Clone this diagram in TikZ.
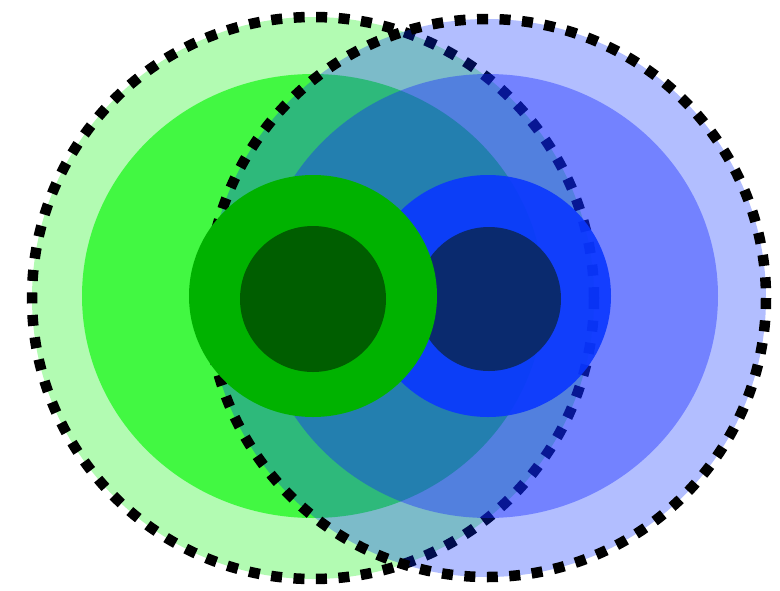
\documentclass[tikz,border=0pt]{standalone}
\definecolor{gOuter}{RGB}{178,251,178}
\definecolor{gMid}{RGB}{66,248,66}
\definecolor{gInner}{RGB}{0,178,0}
\definecolor{gDark}{RGB}{0,94,0}
\definecolor{bOuter}{RGB}{0,40,255}
\definecolor{bMid}{RGB}{20,40,255}
\definecolor{bInner}{RGB}{10,55,255}
\definecolor{bDark}{RGB}{10,42,110}
\begin{document}
\begin{tikzpicture}[x=1pt,y=-1pt,
  dashring/.style={draw=black,line width=10.5pt,dash pattern=on 11pt off 11.5pt}]
\useasboundingbox (0,0) rectangle (780,590);
% left group, lower layers
\fill[gOuter] (313,298) circle[radius=281];
\draw[dashring] (313,298) circle[radius=281];
\fill[gMid] (313,296) ellipse[x radius=231,y radius=222];
% right group
\fill[bOuter,opacity=0.3] (487,298) circle[radius=279];
\draw[dashring] (487,298) circle[radius=279];
\fill[bMid,opacity=0.4] (488,296) ellipse[x radius=230,y radius=222];
\fill[bInner,opacity=0.9] (488,296) ellipse[x radius=123,y radius=121];
\fill[bDark] (489,299) circle[radius=72];
% left group, top layers
\fill[gInner] (313,296) ellipse[x radius=124,y radius=121];
\fill[gDark] (313,299) circle[radius=73];
\end{tikzpicture}
\end{document}
